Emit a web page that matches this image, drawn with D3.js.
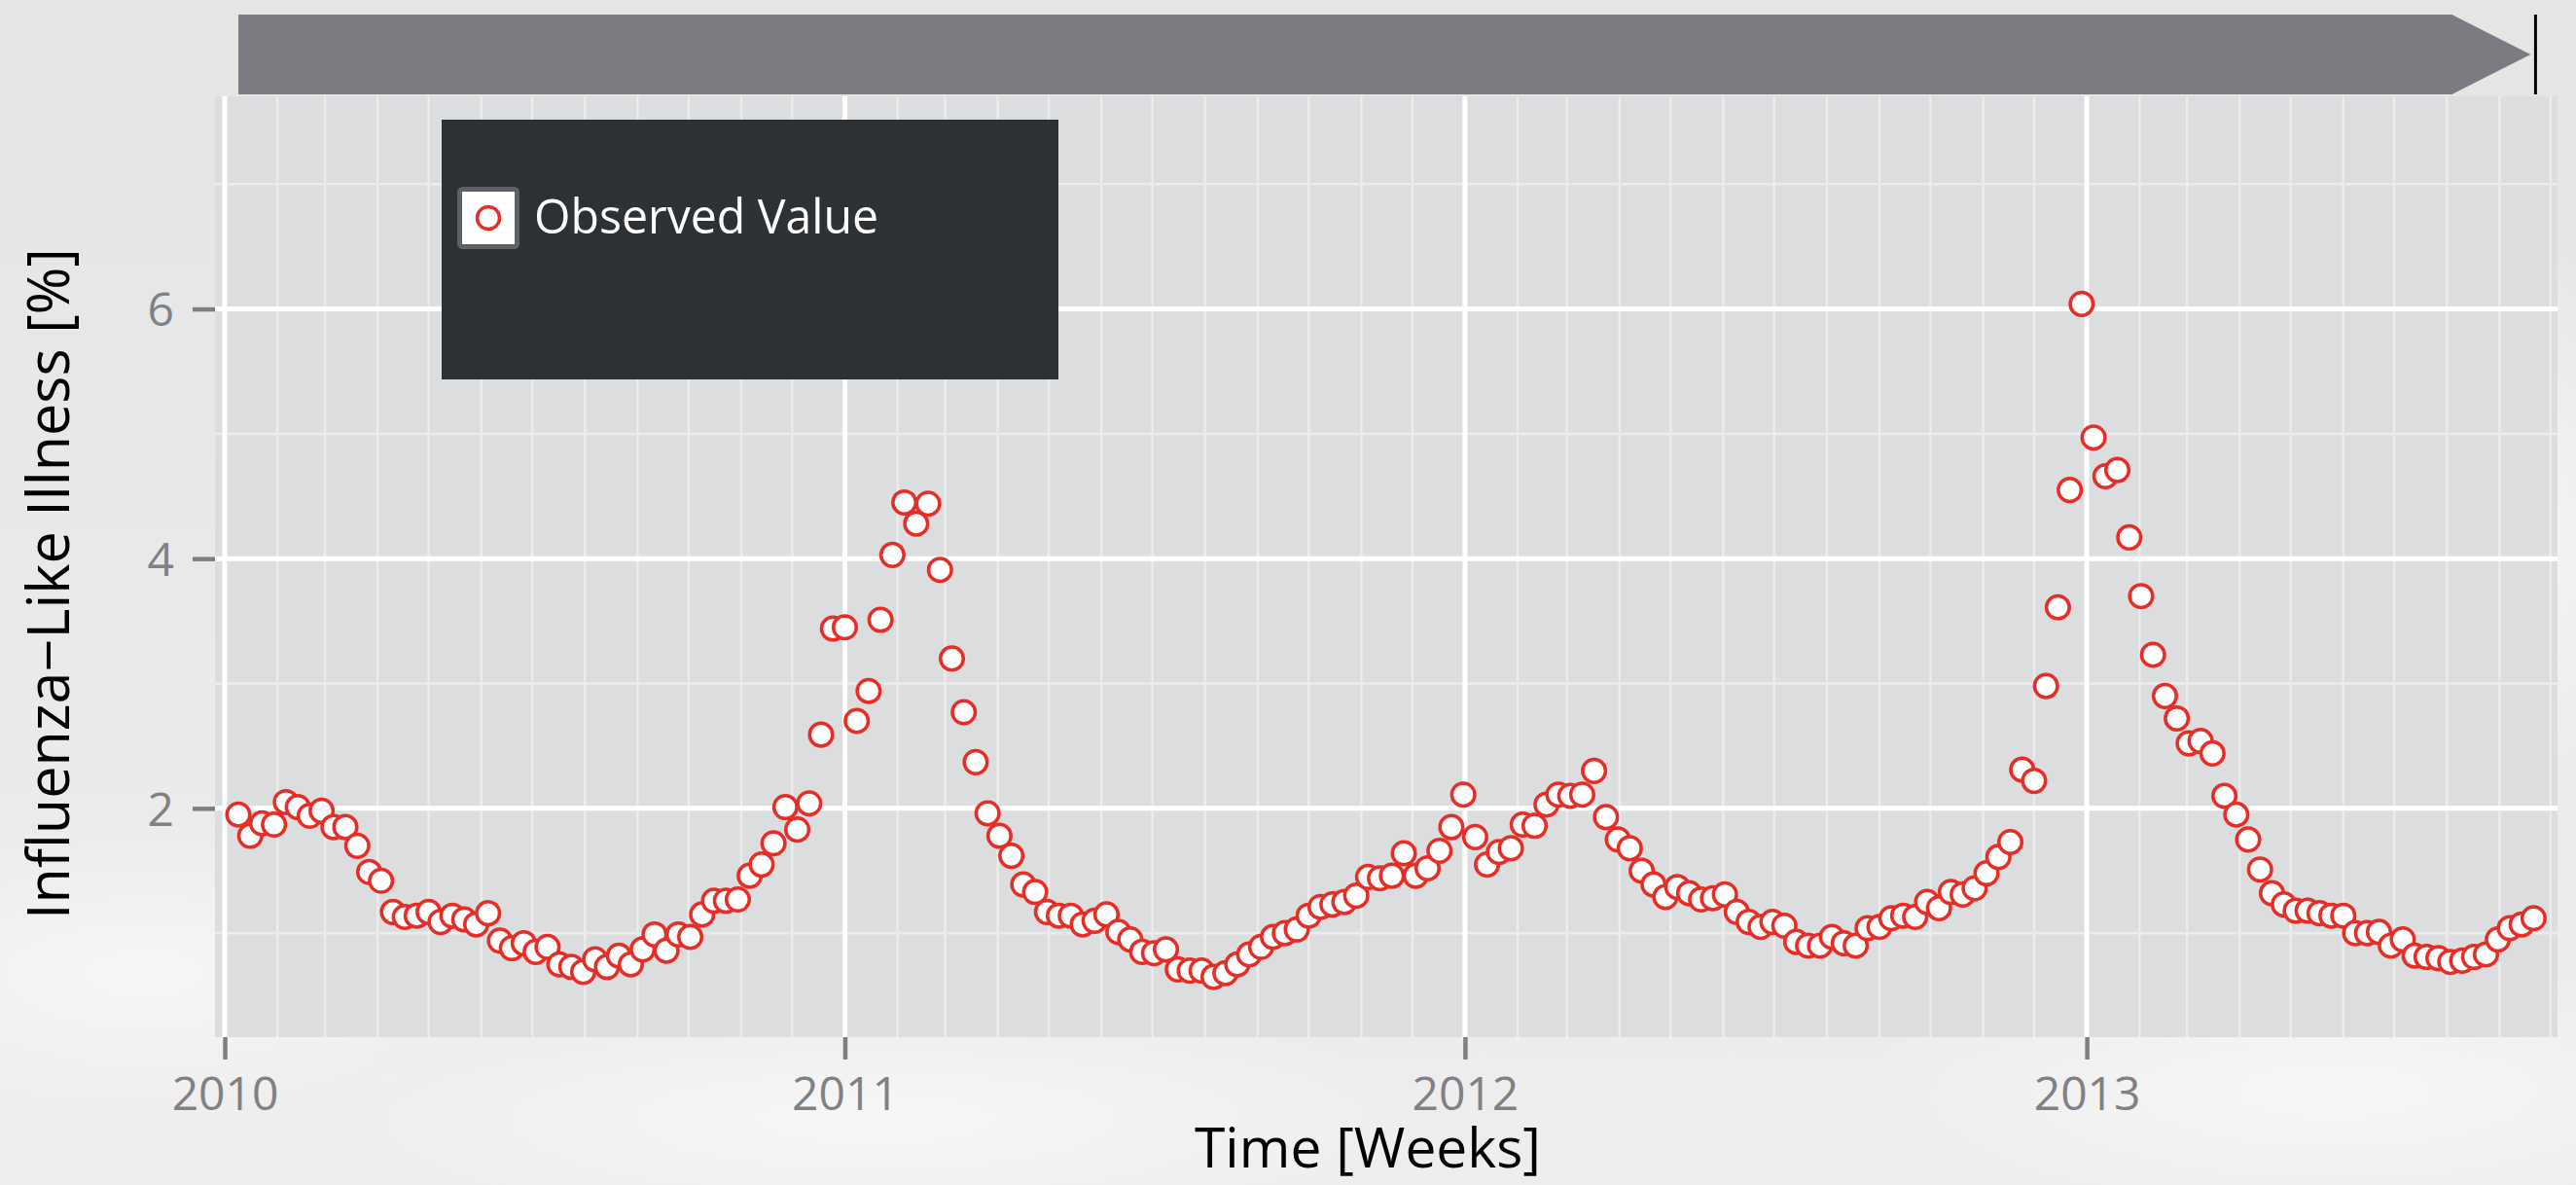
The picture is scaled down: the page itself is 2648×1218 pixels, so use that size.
<!DOCTYPE html>
<html><head><meta charset="utf-8">
<script src="https://cdn.jsdelivr.net/npm/d3@7"></script>
<style>html,body{margin:0;padding:0;background:#e8e8e8;overflow:hidden}</style>
</head><body>
<svg id="chart" width="2648" height="1218"></svg>
<script>
// ---------------- data ----------------
const firstWeek = "2010-01-09";   // week-ending date of the first observation
const iliValues = [
  1.95,1.78,1.88,1.87,2.05,2.01,1.94,1.98,1.85,1.85,
  1.70,1.49,1.42,1.17,1.13,1.14,1.17,1.09,1.14,1.11,
  1.07,1.16,0.94,0.88,0.92,0.85,0.89,0.75,0.73,0.69,
  0.79,0.73,0.82,0.75,0.87,0.99,0.86,0.99,0.97,1.15,
  1.26,1.26,1.27,1.46,1.55,1.72,2.01,1.83,2.04,2.59,
  3.44,3.45,2.70,2.94,3.51,4.03,4.45,4.28,4.44,3.91,
  3.20,2.77,2.37,1.96,1.78,1.62,1.39,1.33,1.17,1.14,
  1.14,1.07,1.10,1.15,1.01,0.95,0.85,0.84,0.87,0.71,
  0.70,0.70,0.65,0.68,0.75,0.83,0.89,0.97,1.00,1.03,
  1.14,1.21,1.23,1.25,1.30,1.45,1.44,1.46,1.64,1.46,
  1.52,1.66,1.85,2.11,1.77,1.55,1.65,1.68,1.87,1.86,
  2.03,2.11,2.10,2.11,2.30,1.93,1.75,1.68,1.50,1.39,
  1.29,1.37,1.32,1.27,1.28,1.31,1.17,1.09,1.05,1.09,
  1.06,0.93,0.90,0.90,0.97,0.92,0.90,1.04,1.05,1.12,
  1.14,1.13,1.25,1.20,1.33,1.31,1.36,1.48,1.61,1.73,
  2.31,2.22,2.98,3.61,4.55,6.04,4.97,4.66,4.71,4.17,
  3.70,3.23,2.90,2.72,2.52,2.54,2.44,2.10,1.95,1.75,
  1.51,1.32,1.23,1.18,1.18,1.16,1.14,1.14,1.00,1.00,
  1.01,0.90,0.95,0.82,0.81,0.80,0.77,0.78,0.81,0.83,
  0.95,1.04,1.07,1.12
];
const yearTicks = ["2010","2011","2012","2013"];
const yMajorTicks = [2, 4, 6];
const yMinorTicks = [1, 3, 5, 7];
const legendLabel = "Observed Value";
const xTitle = "Time [Weeks]";
const yTitle = "Influenza\u2212Like Illness [%]";

// ---------------- layout ----------------
const W = 2648, H = 1218;
const panel = {left: 221, right: 2629, top: 99, bottom: 1066};
const FONT = "'Open Sans', 'Noto Sans', sans-serif";
const RED = "#e62e26";

const svg = d3.select("#chart");
const parseDay = d3.utcParse("%Y-%m-%d");
const dates = iliValues.map((v, i) => d3.utcWeek.offset(parseDay(firstWeek), i));
const data = iliValues.map((v, i) => ({date: dates[i], value: v}));

const x = d3.scaleUtc()
  .domain([new Date(Date.UTC(2009, 11, 26, 6)), new Date(Date.UTC(2013, 9, 5, 2))])
  .range([panel.left, panel.right]);
const y = d3.scaleLinear()
  .domain([0.1675, 7.703])
  .range([panel.bottom, panel.top]);

// background
const defs = svg.append("defs");
const bg = defs.append("linearGradient").attr("id", "bg").attr("x1", 0).attr("y1", 0).attr("x2", 0).attr("y2", 1);
bg.append("stop").attr("offset", "0%").attr("stop-color", "#e5e5e5");
bg.append("stop").attr("offset", "100%").attr("stop-color", "#eeeeee");
const blob = defs.append("radialGradient").attr("id", "blob");
blob.append("stop").attr("offset", "0%").attr("stop-color", "#ffffff").attr("stop-opacity", 0.55);
blob.append("stop").attr("offset", "100%").attr("stop-color", "#ffffff").attr("stop-opacity", 0);
const clip = defs.append("clipPath").attr("id", "panelClip");
clip.append("rect").attr("x", panel.left).attr("y", panel.top)
  .attr("width", panel.right - panel.left).attr("height", panel.bottom - panel.top);

svg.append("rect").attr("width", W).attr("height", H).attr("fill", "url(#bg)");
[[150, 1000, 420, 160], [900, 1150, 600, 120], [2400, 1120, 500, 140], [2600, 550, 160, 300]].forEach(b => {
  svg.append("ellipse").attr("cx", b[0]).attr("cy", b[1]).attr("rx", b[2]).attr("ry", b[3]).attr("fill", "url(#blob)");
});

// timeline arrow
const aL = x(dates[0]), aR = x(dates[dates.length - 1]);
const aTop = 15, aBot = 97, aMid = (aTop + aBot) / 2, head = 84;
svg.append("path")
  .attr("d", `M${aL},${aTop}L${aR - head},${aTop}L${aR - 3},${aMid}L${aR - head},${aBot}L${aL},${aBot}Z`)
  .attr("fill", "#7b7c81");
svg.append("line").attr("x1", aR + 2).attr("x2", aR + 2).attr("y1", aTop).attr("y2", aBot)
  .attr("stroke", "#000").attr("stroke-width", 3);

// panel
svg.append("rect").attr("x", panel.left).attr("y", panel.top)
  .attr("width", panel.right - panel.left).attr("height", panel.bottom - panel.top)
  .attr("fill", "#dcdddf");

const grid = svg.append("g").attr("clip-path", "url(#panelClip)");
// monthly minor verticals
grid.selectAll("line.month").data(d3.utcMonth.range(x.domain()[0], x.domain()[1]))
  .join("line").attr("class", "month")
  .attr("x1", d => x(d)).attr("x2", d => x(d))
  .attr("y1", panel.top).attr("y2", panel.bottom)
  .attr("stroke", "#ececed").attr("stroke-width", 2.4);
// minor horizontals
grid.selectAll("line.ymin").data(yMinorTicks).join("line").attr("class", "ymin")
  .attr("x1", panel.left).attr("x2", panel.right)
  .attr("y1", d => y(d)).attr("y2", d => y(d))
  .attr("stroke", "#ececed").attr("stroke-width", 2.6);
// major horizontals
grid.selectAll("line.ymaj").data(yMajorTicks).join("line").attr("class", "ymaj")
  .attr("x1", panel.left).attr("x2", panel.right)
  .attr("y1", d => y(d)).attr("y2", d => y(d))
  .attr("stroke", "#ffffff").attr("stroke-width", 5);
// year verticals
const yearDates = yearTicks.map(t => d3.utcParse("%Y")(t));
grid.selectAll("line.year").data(yearDates).join("line").attr("class", "year")
  .attr("x1", d => x(d)).attr("x2", d => x(d))
  .attr("y1", panel.top).attr("y2", panel.bottom)
  .attr("stroke", "#ffffff").attr("stroke-width", 5);

// axes
const xAxis = d3.axisBottom(x).tickValues(yearDates).tickFormat(d3.utcFormat("%Y"))
  .tickSize(23).tickPadding(20);
const gx = svg.append("g").attr("transform", `translate(0,${panel.bottom})`).call(xAxis);
gx.select(".domain").remove();
gx.selectAll(".tick line").attr("stroke", "#7f7f83").attr("stroke-width", 4.5);
gx.selectAll(".tick text").attr("fill", "#808085").attr("font-family", FONT)
  .attr("font-size", 48).attr("dy", "0.71em").attr("y", 41);

const yAxis = d3.axisLeft(y).tickValues(yMajorTicks).tickFormat(d3.format("d"))
  .tickSize(23).tickPadding(19);
const gy = svg.append("g").attr("transform", `translate(${panel.left},0)`).call(yAxis);
gy.select(".domain").remove();
gy.selectAll(".tick line").attr("stroke", "#7f7f83").attr("stroke-width", 4.5);
gy.selectAll(".tick text").attr("fill", "#808085").attr("font-family", FONT)
  .attr("font-size", 48).attr("dy", "0.36em");

// titles
svg.append("text").attr("x", 1406).attr("y", 1200).attr("text-anchor", "middle")
  .attr("font-family", FONT).attr("font-size", 56).attr("fill", "#000")
  .attr("textLength", 356).attr("lengthAdjust", "spacingAndGlyphs").text(xTitle);
svg.append("text").attr("transform", "translate(71,600) rotate(-90)").attr("text-anchor", "middle")
  .attr("font-family", FONT).attr("font-size", 60).attr("fill", "#000")
  .attr("textLength", 690).attr("lengthAdjust", "spacingAndGlyphs").text(yTitle);

// points
svg.append("g").attr("clip-path", "url(#panelClip)")
  .selectAll("circle").data(data).join("circle")
  .attr("cx", d => x(d.date)).attr("cy", d => y(d.value)).attr("r", 11.8)
  .attr("fill", "#ffffff").attr("stroke", RED).attr("stroke-width", 3.5);

// legend
const lg = svg.append("g");
lg.append("rect").attr("x", 454).attr("y", 123).attr("width", 634).attr("height", 267).attr("fill", "#2e3134");
lg.append("rect").attr("x", 472.5).attr("y", 194.5).attr("width", 59).attr("height", 59).attr("rx", 3)
  .attr("fill", "#ffffff").attr("stroke", "#5f6166").attr("stroke-width", 5);
lg.append("circle").attr("cx", 502).attr("cy", 224).attr("r", 11.5)
  .attr("fill", "#ffffff").attr("stroke", RED).attr("stroke-width", 3.5);
lg.append("text").attr("x", 549).attr("y", 240).attr("font-family", FONT).attr("font-size", 50)
  .attr("fill", "#ffffff").attr("textLength", 354).attr("lengthAdjust", "spacingAndGlyphs").text(legendLabel);
</script>
</body></html>
